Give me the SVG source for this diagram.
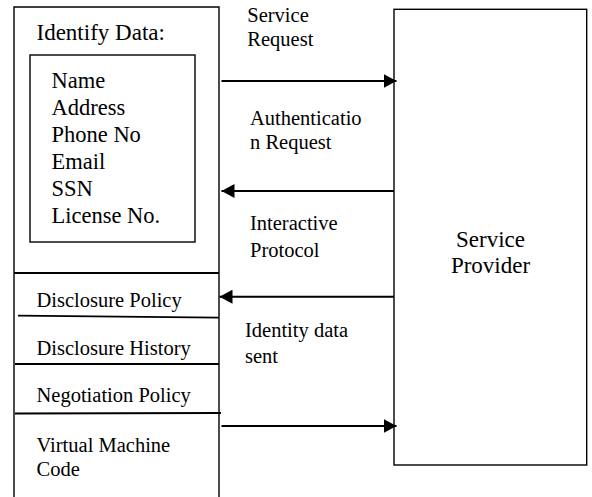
<svg xmlns="http://www.w3.org/2000/svg" width="592" height="497" viewBox="0 0 592 497" font-family="Liberation Serif, Times New Roman, DejaVu Serif, serif">
<defs>
<style>
text{font-family:'Liberation Serif','Times New Roman','DejaVu Serif',serif;fill:#000}
.box{fill:none;stroke:#000;stroke-width:1.4}
.sep{stroke:#000;stroke-width:1.8}
.arr{stroke:#000;stroke-width:2;fill:none}
</style>
<marker id="ah" markerWidth="14" markerHeight="14" refX="13" refY="7" orient="auto" markerUnits="userSpaceOnUse">
<path d="M0,0 L13,7 L0,14 Z" fill="#000"/>
</marker>
</defs>
<rect width="592" height="497" fill="#fff"/>
<g id="client">
<path class="box" d="M14,497 V7 H219 V497"/>
<text x="36.5" y="40" font-size="23">Identify Data:</text>
</g>
<g id="identity-data">
<rect class="box" x="30" y="55" width="165" height="187"/>
<text font-size="22.5">
<tspan x="51.5" y="87.5">Name</tspan>
<tspan x="51.5" y="114.5">Address</tspan>
<tspan x="51.5" y="141.5">Phone No</tspan>
<tspan x="51.5" y="168.5">Email</tspan>
<tspan x="51.5" y="195.5">SSN</tspan>
<tspan x="51.5" y="222.5">License No.</tspan>
</text>
</g>
<g id="disclosure-policy">
<line class="sep" x1="14" y1="273" x2="219" y2="273"/>
<text x="36.5" y="306.7" font-size="20.5">Disclosure Policy</text>
</g>
<g id="disclosure-history">
<line class="sep" x1="18" y1="315.7" x2="219" y2="317.7"/>
<text x="36.5" y="355" font-size="20.5">Disclosure History</text>
</g>
<g id="negotiation-policy">
<line class="sep" x1="15" y1="364" x2="219" y2="364"/>
<text x="36.5" y="401.7" font-size="20.5">Negotiation Policy</text>
</g>
<g id="vm-code">
<line class="sep" x1="15" y1="413.5" x2="221" y2="413"/>
<text font-size="20.5"><tspan x="36.5" y="451.7">Virtual Machine</tspan><tspan x="36.5" y="476">Code</tspan></text>
</g>
<g id="service-provider">
<rect class="box" x="394" y="9.3" width="192.7" height="455.7"/>
<text font-size="23" text-anchor="middle"><tspan x="490.5" y="246.7">Service</tspan><tspan x="490.5" y="273.3">Provider</tspan></text>
</g>
<g id="connectors">
<line class="arr" x1="221.5" y1="81" x2="396.5" y2="81" marker-end="url(#ah)"/>
<line class="arr" x1="394" y1="191" x2="221.5" y2="191" marker-end="url(#ah)"/>
<line class="arr" x1="394" y1="296.7" x2="219.5" y2="296.7" marker-end="url(#ah)"/>
<line class="arr" x1="221.5" y1="426" x2="396.5" y2="426" marker-end="url(#ah)"/>
</g>
<g id="labels">
<text font-size="20.5"><tspan x="247.3" y="21.7">Service</tspan><tspan x="247.3" y="45.5">Request</tspan></text>
<text font-size="20.5"><tspan x="250" y="125">Authenticatio</tspan><tspan x="250" y="149.3">n Request</tspan></text>
<text font-size="20.5"><tspan x="250" y="230">Interactive</tspan><tspan x="250" y="256.7">Protocol</tspan></text>
<text font-size="20.5"><tspan x="245" y="336.7">Identity data</tspan><tspan x="245" y="363.3">sent</tspan></text>
</g>
</svg>
